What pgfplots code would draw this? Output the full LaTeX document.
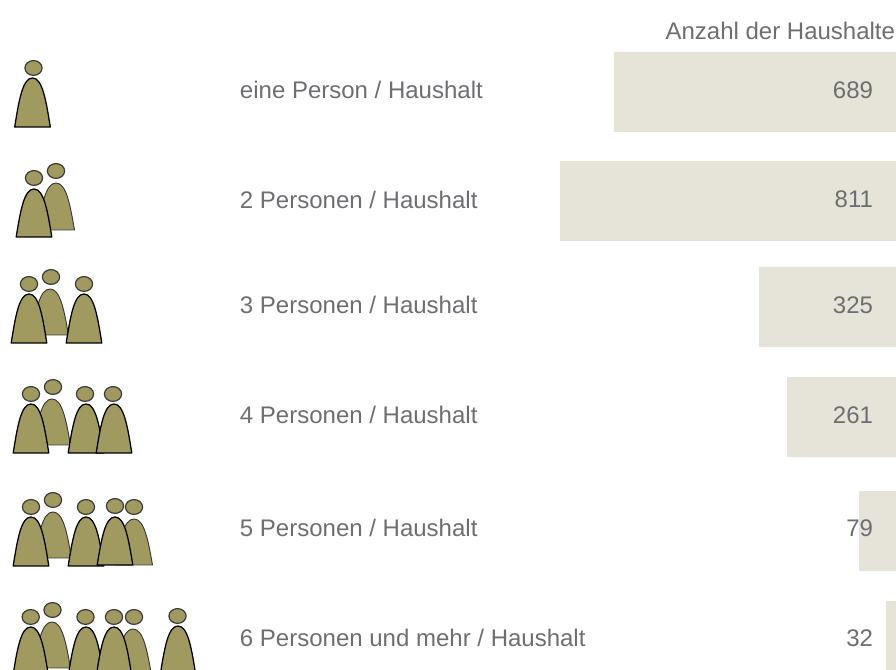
\documentclass[border=0pt]{standalone}
\usepackage{pgfplots}
\usepackage{pgfplotstable}
\usepackage{fontspec}
\setmainfont{Liberation Sans}
\pgfplotsset{compat=1.18}
\definecolor{barc}{HTML}{E6E4D8}
\definecolor{txt}{HTML}{6D6E71}
\definecolor{body}{HTML}{A09A60}
\definecolor{headline}{HTML}{3A3A36}
% y = row centre in px from top; barlen = bar length as drawn, px; value = printed number
\pgfplotstableread[col sep=comma]{
y,barlen,value,ytext,labx,valx,name
92,282,689,90,656,23,eine Person / Haushalt
201,336,811,199.5,656,23,2 Personen / Haushalt
307,137,325,305,656,23,3 Personen / Haushalt
417,109,261,415,656,23,4 Personen / Haushalt
531,37,79,528,656,23,5 Personen / Haushalt
641,10,32,638,656,23,6 Personen und mehr / Haushalt
}\hh
% person: cx, bottom, apex, half width, headx, heady, line colour, line width
\newcommand{\person}[8]{%
  \path[fill=body,draw=#7,line width=#8,line join=round]
    ({#1-#4},#2) .. controls ({#1-#4*0.76},{#2-(#2-#3)*0.55}) and ({#1-#4*0.55},#3) .. (#1,#3)
    .. controls ({#1+#4*0.55},#3) and ({#1+#4*0.76},{#2-(#2-#3)*0.55}) .. ({#1+#4},#2) -- cycle;
  \path[fill=body,draw=headline,line width=0.9pt] (#5,#6) ellipse [x radius=8.6,y radius=7.4];
}
\newcommand{\front}[5]{\person{#1}{#2}{#3}{17.8}{#4}{#5}{black}{0.95pt}}
\newcommand{\back}[5]{\person{#1}{#2}{#3}{18.5}{#4}{#5}{headline}{0.7pt}}
\begin{document}
\begin{tikzpicture}
\clip (0,0) rectangle (672pt,502.5pt);
\begin{axis}[
  at={(0,0)},anchor=south west,
  scale only axis,width=672pt,height=502.5pt,
  hide axis,
  x dir=reverse,y dir=reverse,
  xmin=0,xmax=896,ymin=0,ymax=670,
]
\addplot[xbar,bar shift=0pt,bar width=60pt,fill=barc,draw=none] table[col sep=comma,x=barlen,y=y] {\hh};
\addplot[only marks,mark=none,point meta=explicit symbolic,nodes near coords,
  nodes near coords style={anchor=west,inner sep=0pt,outer sep=0pt,text=txt,font=\fontsize{18pt}{20pt}\selectfont}]
  table[col sep=comma,x=labx,y=ytext,meta=name] {\hh};
\addplot[only marks,mark=none,point meta=explicit symbolic,nodes near coords,
  nodes near coords style={anchor=east,inner sep=0pt,outer sep=0pt,text=txt,font=\fontsize{18pt}{20pt}\selectfont}]
  table[col sep=comma,x=valx,y=ytext,meta=value] {\hh};
\end{axis}
\node[anchor=east,inner sep=0pt,text=txt,font=\fontsize{18pt}{20pt}\selectfont] at (671.5pt,{502.5pt-31*0.75pt}) {Anzahl der Haushalte};
\begin{scope}[x=0.75pt,y=-0.75pt,yshift=502.5pt]
% row 1
\front{32.5}{127}{78}{33.5}{68}
% row 2
\back{56}{230}{183}{56}{171}
\front{34}{237}{189}{34}{178}
% row 3
\back{50}{335}{289}{51}{277}
\front{29}{343}{294}{29}{284}
\front{84}{343}{294}{84}{284}
% row 4
\back{52}{445}{399}{53}{387}
\front{31}{453}{404}{31}{394}
\front{86}{453}{404}{85}{394}
\front{114}{453}{404}{113}{394}
% row 5
\back{53}{558}{512}{53}{500}
\back{134}{565}{519}{134}{507}
\front{31}{566}{517}{31}{507}
\front{86}{566}{517}{86}{507}
\front{115}{565}{517}{115}{506}
% row 6
\back{52}{668}{622}{52.5}{610}
\back{133}{675}{629}{134}{617}
\front{30.7}{676}{627}{30.7}{617}
\front{86}{676}{627}{85.5}{617}
\front{114}{676}{627}{114}{617}
\front{178}{675}{626}{177.5}{616}
\end{scope}
\end{tikzpicture}
\end{document}
